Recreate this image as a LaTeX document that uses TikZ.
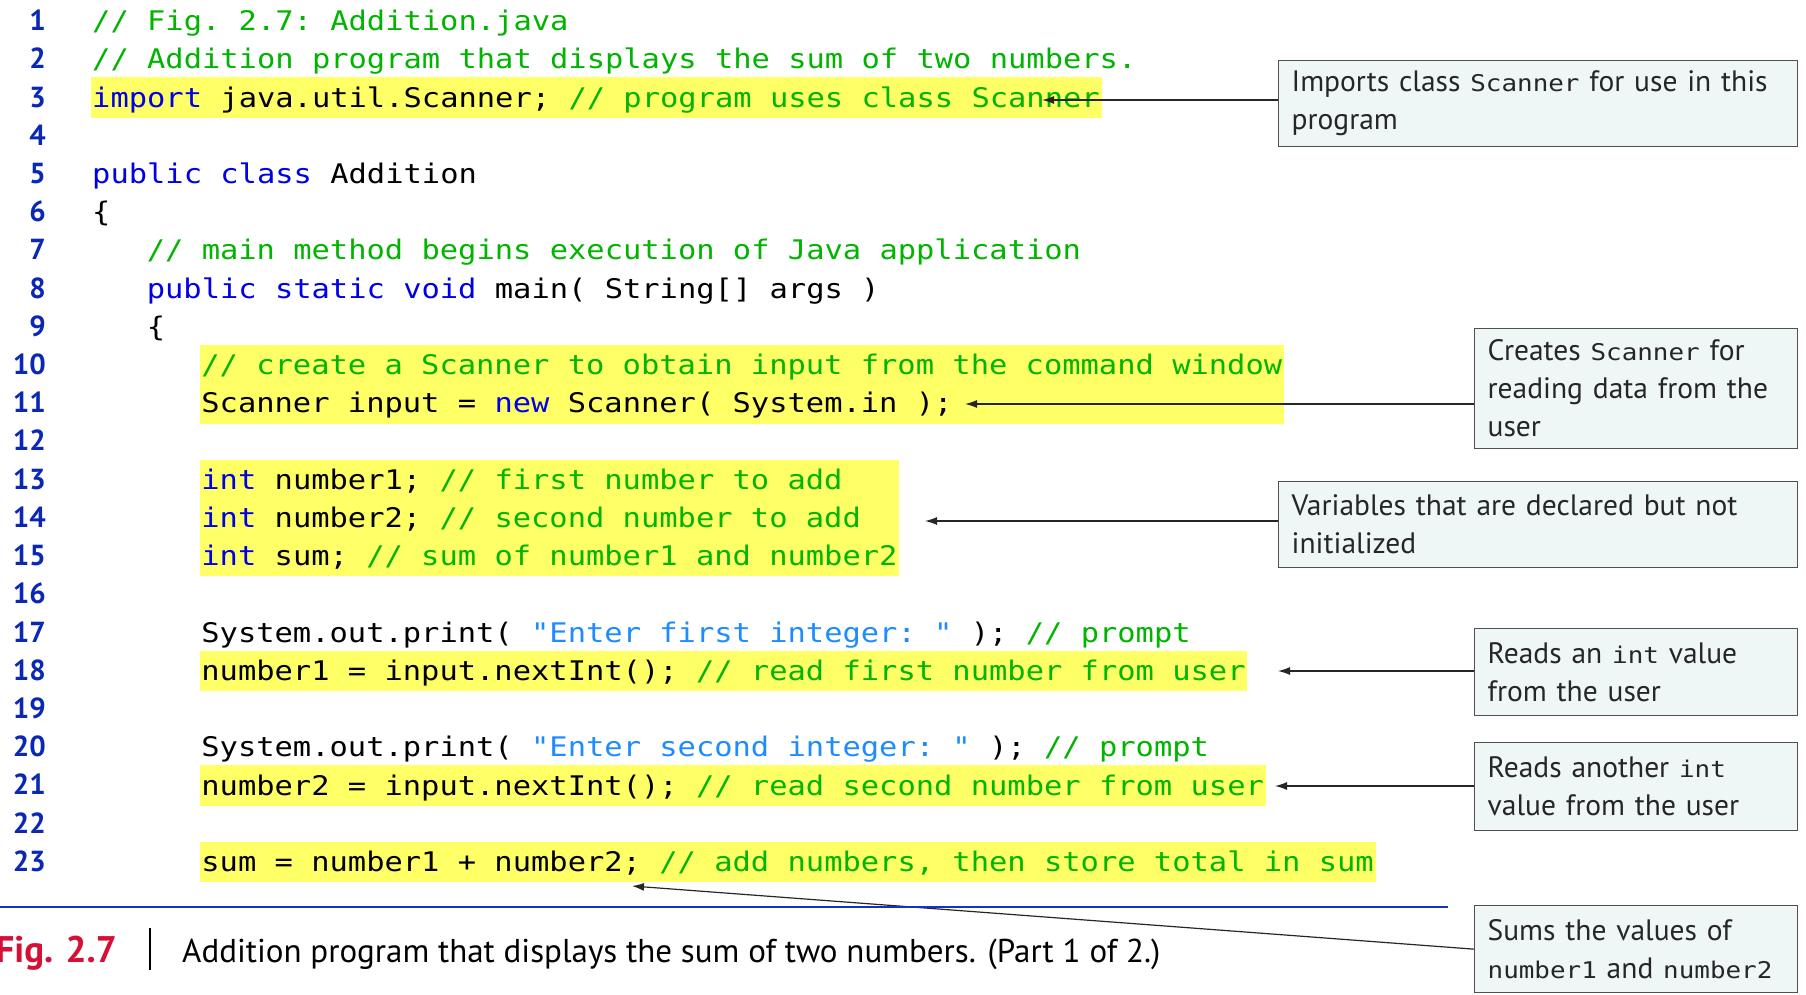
\documentclass[tikz,border=0pt]{standalone}
\usepackage{fontspec}
\setmainfont{PT Sans}
\setmonofont[FakeStretch=1.127]{DejaVu Sans Mono}
\usetikzlibrary{fit,backgrounds,arrows.meta}

\definecolor{kwblue}{RGB}{0,0,230}
\definecolor{cmgreen}{RGB}{0,180,0}
\definecolor{strblue}{RGB}{30,140,255}
\definecolor{lnblue}{RGB}{10,40,180}
\definecolor{hlyellow}{RGB}{255,255,102}
\definecolor{notefill}{RGB}{238,246,246}
\definecolor{notedraw}{RGB}{80,80,80}
\definecolor{figred}{RGB}{215,15,55}
\definecolor{ruleblue}{RGB}{20,50,200}

\newcommand{\kw}[1]{\textcolor{kwblue}{#1}}
\newcommand{\cm}[1]{\textcolor{cmgreen}{#1}}
\newcommand{\str}[1]{\textcolor{strblue}{#1}}
\newcommand{\notecode}[1]{{\ttfamily\fontsize{23}{38}\selectfont #1}}

\begin{document}
\begin{tikzpicture}[x=1pt,y=-1pt]
	\tikzstyle{code}=[anchor=base west,inner sep=0pt,text height=28pt,text depth=9pt,font=\ttfamily\frenchspacing\fontsize{27}{38}\selectfont]
	\tikzstyle{hl}=[fill=hlyellow,inner sep=1.5pt]
	\tikzstyle{lnum}=[anchor=base east,inner sep=0pt,text=lnblue,font=\bfseries\fontsize{29}{30}\selectfont]
	\tikzstyle{note}=[draw=notedraw,line width=1.3pt,fill=notefill,anchor=north west,align=left,inner xsep=13pt,text=black!85,font=\fontsize{29.5}{38}\selectfont]
	\tikzstyle{callout}=[-{Latex[length=12pt,width=8pt]},draw=black!85,line width=1.2pt]

	\useasboundingbox (0,0) rectangle (1806,994);

	% line numbers
	\foreach \n in {1,...,23}
		\node[lnum](n\n) at (46,{30.56+(\n-1)*38.22}){\n};

	% code
	\node[code](l1) at (92,30.6){\cm{// Fig. 2.7: Addition.java}};
	\node[code](l2) at (92,68.8){\cm{// Addition program that displays the sum of two numbers.}};
	\node[code](l3) at (92,107.0){\kw{import} java.util.Scanner; \cm{// program uses class Scanner}};
	\node[code](l5) at (92,183.4){\kw{public class} Addition};
	\node[code](l6) at (92,221.7){\{};
	\node[code](l7) at (146.6,259.9){\cm{// main method begins execution of Java application}};
	\node[code](l8) at (146.6,298.1){\kw{public static void} main( String[] args )};
	\node[code](l9) at (146.6,336.3){\{};
	\node[code](l10) at (201.2,374.5){\cm{// create a Scanner to obtain input from the command window}};
	\node[code](l11) at (201.2,412.8){Scanner input = \kw{new} Scanner( System.in );};
	\node[code](l13) at (201.2,489.2){\kw{int} number1; \cm{// first number to add}};
	\node[code](l14) at (201.2,527.4){\kw{int} number2; \cm{// second number to add}};
	\node[code](l15) at (201.2,565.6){\kw{int} sum; \cm{// sum of number1 and number2}};
	\node[code](l17) at (201.2,642.1){System.out.print( \str{"Enter first integer: "} ); \cm{// prompt}};
	\node[code](l18) at (201.2,680.3){number1 = input.nextInt(); \cm{// read first number from user}};
	\node[code](l20) at (201.2,756.7){System.out.print( \str{"Enter second integer: "} ); \cm{// prompt}};
	\node[code](l21) at (201.2,795.0){number2 = input.nextInt(); \cm{// read second number from user}};
	\node[code](l23) at (201.2,871.4){sum = number1 + number2; \cm{// add numbers, then store total in sum}};

	% highlights
	\begin{scope}[on background layer]
		\node[hl,fit=(l3)]{};
		\node[hl,fit=(l10)(l11)]{};
		\node[hl,fit=(l13)(l14)(l15)]{};
		\node[hl,fit=(l18)]{};
		\node[hl,fit=(l21)]{};
		\node[hl,fit=(l23)]{};
	\end{scope}

	% notes
	\node[note,text width=493pt,minimum width=519pt,minimum height=86pt](c1) at (1278,60){Imports class \notecode{Scanner} for use in this\\program};
	\node[note,text width=297pt,minimum width=323pt,minimum height=120pt](c2) at (1474,328){Creates \notecode{Scanner} for\\reading data from the\\user};
	\node[note,text width=493pt,minimum width=519pt,minimum height=86pt](c3) at (1278,481){Variables that are declared but not\\initialized};
	\node[note,text width=297pt,minimum width=323pt,minimum height=87pt](c4) at (1474,628){Reads an \notecode{int} value\\from the user};
	\node[note,text width=297pt,minimum width=323pt,minimum height=88pt](c5) at (1474,742){Reads another \notecode{int}\\value from the user};
	\node[note,text width=297pt,minimum width=323pt,minimum height=87pt](c6) at (1474,905){Sums the values of\\\notecode{number1} and \notecode{number2}};

	\coordinate (t1) at (1042,100);
	\coordinate (t2) at (965,404);
	\coordinate (t3) at (925,521);
	\coordinate (t4) at (1278,671);
	\coordinate (t5) at (1275,786);
	\coordinate (t6) at (632,886);

	\draw[callout] (c1.west |- t1) -- (t1);
	\draw[callout] (c2.west |- t2) -- (t2);
	\draw[callout] (c3.west |- t3) -- (t3);
	\draw[callout] (c4.west |- t4) -- (t4);
	\draw[callout] (c5.west |- t5) -- (t5);
	\draw[callout] (c6.west) -- (t6);

	% caption
	\draw[ruleblue,line width=2.5pt] (0,907) -- (1448,907);
	\node[anchor=base east,inner sep=0pt,text=figred,font=\bfseries\fontsize{37}{40}\selectfont](fig) at (117,962){Fig. 2.7};
	\draw[line width=1.3pt] (150,928) -- (150,970);
	\node[anchor=base west,inner sep=0pt,font=\fontsize{33}{36}\selectfont](cap) at (182,962){Addition program that displays the sum of two numbers. (Part 1 of 2.)};
\end{tikzpicture}
\end{document}
